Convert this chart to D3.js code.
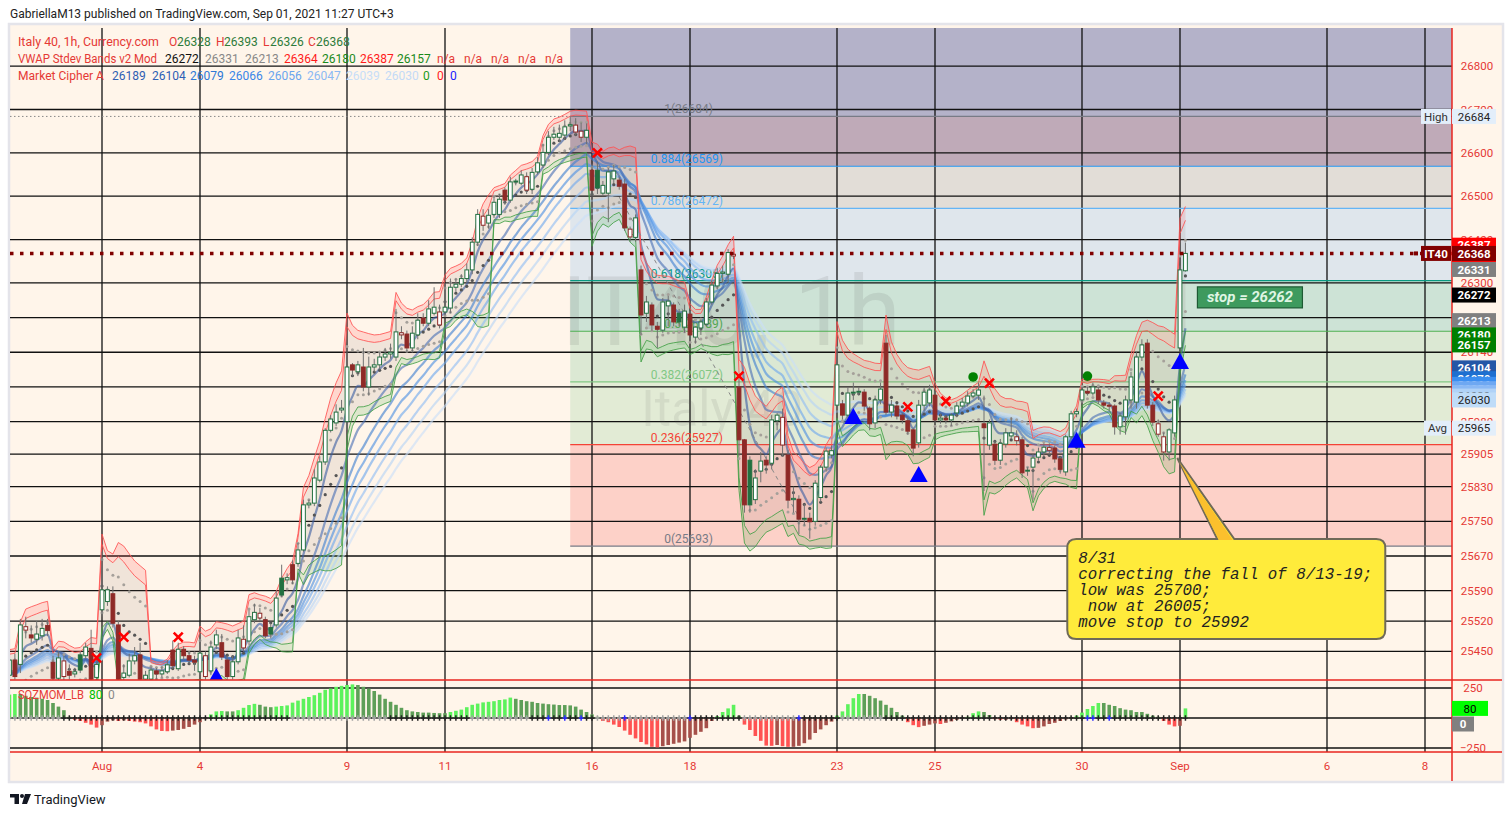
<!DOCTYPE html>
<html><head><meta charset="utf-8">
<script src="https://cdn.jsdelivr.net/npm/d3@7"></script>
<style>body{margin:0;background:#fff}svg{display:block;font-family:Roboto,'Liberation Sans',Arial,sans-serif}</style>
</head><body><svg id="c" width="1512" height="816"></svg>
<script>
// ---------- DATA ----------
// hourly OHLC, Italy 40 (9 bars per trading day, first bar = Jul 29)
const candles = [
[25380,25400,25360,25395],[25395,25440,25385,25430],[25430,25445,25385,25392],[25420,25525,25400,25511],[25499,25530,25480,25507],[25488,25510,25470,25481],[25478,25520,25465,25490],[25486,25525,25475,25503],[25510,25525,25485,25498],
[25425,25440,25370,25388],[25388,25450,25375,25435],[25392,25440,25380,25428],[25404,25420,25385,25395],[25398,25412,25390,25403],[25442,25450,25400,25407],[25440,25470,25432,25460],[25457,25500,25375,25386],[25390,25440,25380,25420],
[25546,25680,25530,25592],[25565,25600,25555,25592],[25583,25600,25505,25515],[25511,25520,25380,25386],[25390,25420,25375,25400],[25395,25445,25390,25428],[25428,25460,25420,25440],[25442,25470,25380,25386],[25386,25405,25375,25395],
[25386,25415,25380,25407],[25405,25412,25385,25398],[25398,25415,25390,25405],[25403,25430,25398,25419],[25453,25475,25410,25417],[25410,25470,25405,25455],[25455,25462,25430,25440],[25440,25450,25420,25430],[25430,25440,25405,25425],
[25403,25480,25395,25446],[25392,25450,25385,25440],[25405,25475,25395,25460],[25465,25500,25455,25488],[25470,25490,25430,25437],[25430,25440,25385,25392],[25392,25440,25385,25426],[25426,25500,25420,25481],[25458,25510,25450,25478],
[25474,25545,25465,25530],[25523,25560,25515,25540],[25527,25550,25520,25538],[25523,25530,25480,25486],[25505,25515,25480,25490],[25511,25590,25505,25573],[25619,25650,25575,25580],[25615,25630,25605,25620],[25650,25660,25605,25615],
[25653,25700,25645,25684],[25684,25800,25680,25788],[25788,25800,25780,25792],[25792,25870,25785,25850],[25845,25900,25840,25887],[25887,25965,25880,25960],[25960,25995,25955,25986],[25977,26020,25970,26002],[26007,26030,26000,26011],
[25980,26150,25960,26106],[26111,26115,26085,26099],[26095,26120,26085,26111],[26106,26150,26050,26060],[26060,26130,26040,26106],[26106,26125,26095,26111],[26111,26140,26100,26129],[26129,26150,26120,26136],[26136,26160,26125,26140],
[26129,26240,26120,26187],[26180,26200,26170,26185],[26182,26190,26140,26150],[26150,26200,26140,26184],[26180,26230,26170,26214],[26219,26230,26200,26207],[26207,26260,26200,26240],[26230,26290,26225,26244],[26203,26250,26195,26233],
[26233,26300,26225,26244],[26242,26310,26230,26290],[26290,26310,26280,26297],[26297,26320,26290,26310],[26310,26345,26300,26330],[26330,26405,26320,26394],[26394,26470,26385,26458],[26433,26470,26420,26454],[26438,26470,26425,26456],
[26458,26500,26450,26486],[26458,26505,26450,26493],[26514,26520,26480,26491],[26491,26545,26485,26533],[26533,26540,26525,26535],[26530,26560,26525,26549],[26514,26555,26505,26545],[26516,26565,26505,26555],[26556,26590,26550,26577],
[26572,26620,26565,26601],[26601,26650,26595,26636],[26636,26660,26630,26643],[26636,26665,26625,26645],[26641,26675,26630,26660],[26662,26684,26650,26665],[26648,26680,26640,26664],[26636,26670,26625,26650],[26636,26668,26620,26652],
[26560,26575,26425,26514],[26560,26580,26505,26519],[26507,26535,26500,26525],[26507,26565,26440,26556],[26540,26572,26530,26558],[26537,26545,26515,26523],[26528,26540,26420,26427],[26406,26430,26395,26424],[26405,26458,26395,26450],
[26330,26340,26180,26226],[26230,26270,26210,26256],[26249,26255,26190,26203],[26200,26210,26150,26193],[26191,26265,26185,26256],[26247,26270,26200,26258],[26249,26255,26200,26210],[26230,26240,26200,26210],[26198,26250,26185,26235],
[26228,26235,26165,26180],[26175,26200,26160,26198],[26196,26215,26180,26210],[26205,26265,26200,26256],[26256,26305,26250,26295],[26293,26335,26285,26322],[26322,26340,26300,26325],[26320,26378,26300,26370],[26362,26370,26355,26366],
[26060,26080,25900,25938],[25938,25940,25770,25788],[25891,25900,25770,25788],[25800,25870,25790,25850],[25866,25910,25840,25889],[25891,25900,25860,25880],[25884,25995,25870,25984],[25982,26000,25960,25995],[25926,26010,25900,25990],
[25903,25915,25780,25799],[25800,25830,25770,25803],[25801,25810,25720,25755],[25755,25790,25740,25757],[25757,25770,25710,25749],[25750,25845,25740,25838],[25805,25880,25795,25875],[25875,25920,25865,25912],[25903,25925,25895,25913],
[26018,26150,26000,26111],[26021,26030,25985,25995],[25995,26060,25990,26046],[26046,26070,26030,26048],[26048,26060,26040,26050],[26048,26055,26005,26016],[26011,26015,25960,25975],[25977,26040,25965,26030],[26030,26070,26020,26055],
[26161,26180,25995,26002],[26002,26030,25990,26018],[26016,26020,25985,25993],[25995,26000,25975,25984],[25982,25990,25950,25958],[25961,25965,25900,25919],[25931,26030,25920,26018],[26018,26060,26005,26048],[26023,26065,26015,26053],
[26041,26050,25975,25984],[25984,25998,25975,25988],[25988,25995,25975,25984],[25984,26000,25970,25995],[26000,26025,25990,26016],[26016,26035,26010,26025],[26023,26050,26015,26039],[26039,26055,26035,26046],[26041,26070,26030,26053],
[25975,26040,25820,25966],[25926,25985,25915,25977],[25928,25935,25880,25891],[25891,25940,25880,25930],[25928,25965,25920,25954],[25947,25990,25940,25954],[25936,25960,25925,25945],[25938,25945,25850,25862],[25866,25875,25855,25868],
[25875,25905,25800,25896],[25898,25920,25890,25910],[25910,25930,25900,25921],[25914,25930,25905,25920],[25919,25925,25885,25894],[25894,25900,25860,25870],[25864,25950,25855,25945],[25945,26005,25940,25998],[25998,26010,25990,26003],
[26030,26060,26020,26053],[26050,26060,26040,26046],[26046,26070,26040,26060],[26053,26060,26020,26030],[26023,26030,26010,26018],[26018,26025,26005,26016],[26016,26020,25950,25968],[25968,26000,25950,25993],[25991,26040,25950,26030],
[26030,26095,26010,26083],[26025,26140,26010,26129],[26129,26170,26120,26157],[26161,26170,26010,26018],[26018,26025,25970,25979],[25951,25985,25945,25975],[25910,25955,25890,25945],[25910,25965,25890,25961],[25954,26040,25945,26030],
[26150,26340,26140,26330],[26328,26393,26326,26368]
];
// SQZMOM_LB histogram, one value per bar
const momentum = [
180,195,200,200,185,175,170,160,150,125,95,65,10,-15,-25,-40,-55,-80,
-60,-30,-20,-25,-20,-25,-30,-35,-45,-70,-95,-108,-110,-105,-100,-90,-75,-55,
-35,-10,30,55,58,55,55,65,85,108,118,110,95,90,95,100,105,128,
145,160,175,190,210,235,245,260,268,275,280,275,260,245,225,195,160,135,
110,85,65,55,50,45,45,42,40,40,50,60,70,90,110,120,130,135,
140,150,155,170,160,150,140,135,125,120,115,112,108,108,105,95,70,50,
30,10,-25,-35,-55,-75,-105,-140,-170,-200,-220,-240,-245,-235,-225,-215,-205,-195,
-165,-140,-115,-85,-25,15,50,80,110,20,-55,-100,-150,-190,-230,-232,-225,-235,
-240,-240,-232,-210,-180,-125,-95,-60,-30,20,55,115,165,200,200,185,165,145,
110,85,50,20,-35,-60,-76,-65,-55,-45,-50,-40,-28,-15,-5,10,40,55,
50,25,-10,-15,-15,-10,-35,-55,-70,-85,-82,-70,-50,-40,-25,-12,-5,20,
45,75,100,125,125,110,100,82,70,65,50,50,35,20,10,-25,-55,-70,
-65,80
];
// squeeze-state crosses on the zero line, as runs of [state, bar count] (g = off, k = on, b = none)
const squeezeRuns = [["g",11],["k",42],["g",18],["k",15],["g",11],["k",3],["b",1],["k",2],["b",1],["k",2],["b",1],["k",2],
 ["g",5],["b",1],["g",11],["b",1],["k",9],["g",10],["b",1],["k",7],["g",8],["k",37],["b",2],["k",2],["b",1],["k",14]];
const squeezeColors = {g:"#a3a3a3", k:"#222222", b:"#2a2aff"};
const barsPerDay = 9;
const timeTickLabels = ["Aug","4","9","11","16","18","23","25","30","Sep","6","8"];
const timeTickDays   = [2,4,7,9,12,14,17,19,22,24,27,29];
const priceTicks = [26800,26700,26600,26500,26400,26300,26220,26140,26060,25980,25905,25830,25750,25670,25590,25520,25450];
const oscTicks = [250,-250];
const emaLengths = [5,11,15,18,21,25,29,33];
const emaColors = ["#3d5fa3","#4a6fb5","#3f7fd0","#4c8fe2","#6ea8ee","#8fbdf3","#b4d3f6","#cadff8"];
const vwapMults = [1,1.56,1.95];
const fibHigh = 26684, fibLow = 25693, fibStartBar = 104;
const fibRatios = [1,0.884,0.786,0.618,0.5,0.382,0.236,0];
const fibLineColors = ["#787b86","#2196f3","#64b5f6","#089981","#4caf50","#81c784","#f44336","#787b86"];
const fibZoneColors = ["#bfaab8","#e2ddd7","#dfe6ec","#cde3d6","#dbe8d3","#e2ebd5","#fdd1c8"];
const fibTopColor = "#b4b2c9";
const crossBars = [17,22,32,109,135,166,173,181,212];
const crossPrices = [25435,25483,25483,26600,26085,26014,26027,26069,26039];
const dotBars = [178,199];
const dotPrices = [26083,26085];
const triBars = [39,156,168,197,216];
const triPrices = [25393,25993,25859,25938,26120];
const trendLine = [[113,26498],[146,25760]];
const lastPrice = 26368, highPrice = 26684, avgPrice = 25965, stopPrice = 26262;
const noteLines = ["8/31","correcting the fall of 8/13-19;","low was 25700;"," now at 26005;","move stop to 25992"];
const noteAnchor = [215.5, 25896];
// [text, colour, x, forced width or 0]
const legend1 = [["Italy 40, 1h, Currency.com","#e53935",18,141],["O","#e53935",169,0],["26328","#2e7b3a",177,0],["H","#e53935",216,0],["26393","#2e7b3a",224,0],["L","#e53935",263,0],["26326","#2e7b3a",270,0],["C","#e53935",308,0],["26368","#2e7b3a",316,0]];
const legend2 = [["VWAP Stdev Bands v2 Mod","#e53935",18,139],["26272","#111",165,0],["26331","#888",205,0],["26213","#888",245,0],["26364","#ff1a1a",284,0],["26180","#1a8a1a",322,0],["26387","#ff1a1a",360,0],["26157","#1a8a1a",397,0],["n/a","#e53935",437,0],["n/a","#e53935",464,0],["n/a","#e53935",491,0],["n/a","#e53935",518,0],["n/a","#e53935",545,0]];
const legend3 = [["Market Cipher A","#e53935",18,86],["26189","#2f5fb3",112,0],["26104","#2d5fb5",152,0],["26079","#2e78d6",190,0],["26066","#3a86e8",229,0],["26056","#6aa5ee",268,0],["26047","#8bb9f3",307,0],["26039","#c7def8",346,0],["26030","#c3daf6",385,0],["0","#1a9a1a",423,0],["0","#ff2020",437,0],["0","#2020ff",450,0]];
const axisBoxes = [
 [26387,"#ff0000","#fff"],[26364,"#ff0000","#fff"],[26368,"#800000","#fff"],[26331,"#808080","#fff"],[26272,"#000000","#fff"],
 [26213,"#808080","#fff"],[26180,"#008000","#fff"],[26157,"#008000","#fff"],
 [26104,"#2456a6","#fff"],[26079,"#1e6fd0","#fff"],[26066,"#3b8ef0","#fff"],[26056,"#6ea8f2","#fff"],[26047,"#8ab9f5","#fff"],[26039,"#b0d2f7","#222"],[26030,"#bfdcf8","#222"]
];

// ---------- SCALES ----------
const svg = d3.select("#c");
const P = {l:10, r:1452, t:28, b:680};
const O = {t:680, b:752};
const x = d3.scaleLinear().domain([0,270]).range([4, 4+270*49/9]);
const y = d3.scaleLinear().domain([25384,26888]).range([680,28]);
const yo = d3.scaleLinear().domain([-250,250]).range([748,688]);
const closes = candles.map(d=>d[3]);
const squeeze = squeezeRuns.flatMap(([s,n])=>Array(n).fill(s));

// ---------- INDICATORS (derived from OHLC) ----------
function ema(arr,len){const k=2/(len+1);let p=arr[0];return arr.map((v,i)=>(p=i?v*k+p*(1-k):v));}
const emas = emaLengths.map(L=>ema(closes,L));
const vw=[];{let s=0,s2=0,n=0,day=-1;candles.forEach((c,i)=>{const d=Math.floor(i/barsPerDay);if(d!==day){day=d;s=0;s2=0;n=0;}[c[1],c[2],c[3]].forEach(v=>{s+=v;s2+=v*v;n++;});const m=s/n;vw.push({i,m,sd:Math.sqrt(Math.max(0,s2/n-m*m))});});}

// ---------- FRAME ----------
svg.append("rect").attr("width",1512).attr("height",816).attr("fill","#fff");
svg.append("text").attr("x",10).attr("y",18).attr("font-size",12).attr("fill","#222").text("GabriellaM13 published on TradingView.com, Sep 01, 2021 11:27 UTC+3");
svg.append("rect").attr("x",9).attr("y",24).attr("width",1494).attr("height",758).attr("fill","#fff5ea").attr("stroke","#e4e4ea").attr("stroke-width",2.5);
const defs = svg.append("defs");
defs.append("clipPath").attr("id","cm").append("rect").attr("x",P.l).attr("y",P.t).attr("width",P.r-P.l).attr("height",P.b-P.t);
defs.append("clipPath").attr("id","co").append("rect").attr("x",P.l).attr("y",O.t).attr("width",P.r-P.l).attr("height",O.b-O.t);

const gm = svg.append("g").attr("clip-path","url(#cm)");
// fib zones
const fibP = fibRatios.map(r=>fibLow+r*(fibHigh-fibLow));
const fx0 = x(fibStartBar);
gm.append("rect").attr("x",fx0).attr("y",P.t).attr("width",P.r-fx0).attr("height",y(fibP[0])-P.t).attr("fill",fibTopColor);
fibZoneColors.forEach((c,k)=>{gm.append("rect").attr("x",fx0).attr("y",y(fibP[k])).attr("width",P.r-fx0).attr("height",y(fibP[k+1])-y(fibP[k])).attr("fill",c);});
// grid
gm.selectAll(".hg").data(priceTicks).join("line").attr("x1",P.l).attr("x2",P.r).attr("y1",d=>y(d)).attr("y2",d=>y(d)).attr("stroke","#111").attr("stroke-width",1.3);
gm.selectAll(".vg").data(timeTickDays).join("line").attr("x1",d=>x(d*barsPerDay)).attr("x2",d=>x(d*barsPerDay)).attr("y1",P.t).attr("y2",P.b).attr("stroke","#111").attr("stroke-width",1.3);
// watermark
gm.append("text").attr("x",731).attr("y",345).attr("text-anchor","middle").attr("font-size",96).attr("fill","rgba(90,90,90,0.13)").text("IT40, 1h");
gm.append("text").attr("x",722).attr("y",426).attr("text-anchor","middle").attr("font-size",50).attr("fill","rgba(90,90,90,0.11)").text("Italy 40");
// fib lines + labels
fibP.forEach((p,k)=>{
  gm.append("line").attr("x1",fx0).attr("x2",P.r).attr("y1",y(p)).attr("y2",y(p)).attr("stroke",fibLineColors[k]).attr("stroke-width",1.2);
  const gray = fibLineColors[k]==="#787b86";
  gm.append("text").attr("x",gray?713:723).attr("y",y(p)-3).attr("text-anchor","end").attr("font-size",12).attr("fill",fibLineColors[k]).text(`${fibRatios[k]}(${Math.round(p)})`);
});
// high dotted line
gm.append("line").attr("x1",P.l).attr("x2",fx0).attr("y1",y(highPrice)).attr("y2",y(highPrice)).attr("stroke","#888").attr("stroke-dasharray","1.5,2.5");

// VWAP band fills
const band = (k,s)=>d=>y(d.m+s*vwapMults[k]*d.sd);
const areaF=(a,b)=>d3.area().x(d=>x(d.i)).y0(a).y1(b);
gm.append("path").datum(vw).attr("d",areaF(band(1,1),band(1,-1))).attr("fill","rgba(130,110,95,0.12)");
gm.append("path").datum(vw).attr("d",areaF(band(1,1),band(2,1))).attr("fill","rgba(255,70,70,0.17)");
gm.append("path").datum(vw).attr("d",areaF(band(1,-1),band(2,-1))).attr("fill","rgba(60,160,60,0.17)");
// EMA ribbon
emas.slice().reverse().forEach((e,k)=>{const idx=emas.length-1-k;gm.append("path").datum(e).attr("d",d3.line().x((d,i)=>x(i)).y(d=>y(d)).curve(d3.curveMonotoneX)).attr("fill","none").attr("stroke",emaColors[idx]).attr("stroke-width",2.2).attr("opacity",0.62);});
// band lines
[[2,1,"#ff5252"],[1,1,"#ff5252"],[1,-1,"#43a047"],[2,-1,"#43a047"]].forEach(([k,s,c])=>{gm.append("path").datum(vw).attr("d",d3.line().x(d=>x(d.i)).y(band(k,s))).attr("fill","none").attr("stroke",c).attr("stroke-width",1).attr("opacity",0.85);});
gm.selectAll(".d1").data(vw.flatMap(d=>[{i:d.i,v:d.m+d.sd},{i:d.i,v:d.m-d.sd}])).join("circle").attr("cx",d=>x(d.i)).attr("cy",d=>y(d.v)).attr("r",1.5).attr("fill","#a5a09a");
gm.selectAll(".d0").data(vw).join("circle").attr("cx",d=>x(d.i)).attr("cy",d=>y(d.m)).attr("r",1.6).attr("fill","#555");
// dashed trend line
gm.append("line").attr("x1",x(trendLine[0][0])).attr("y1",y(trendLine[0][1])).attr("x2",x(trendLine[1][0])).attr("y2",y(trendLine[1][1])).attr("stroke","#888").attr("stroke-dasharray","4,4").attr("stroke-width",1);

// candles
const G="#237040", R="#8e2a27";
const cg = gm.selectAll(".cd").data(candles.map((c,i)=>({i,o:c[0],h:c[1],l:c[2],c:c[3],p:i?candles[i-1][3]:c[0]}))).join("g");
cg.append("line").attr("x1",d=>x(d.i)).attr("x2",d=>x(d.i)).attr("y1",d=>y(d.h)).attr("y2",d=>y(d.l)).attr("stroke","#707070").attr("stroke-width",1);
cg.append("rect").attr("x",d=>x(d.i)-1.9).attr("width",3.8)
  .attr("y",d=>y(Math.max(d.o,d.c))).attr("height",d=>Math.max(1,Math.abs(y(d.o)-y(d.c))))
  .attr("fill",d=>d.c>=d.o?"#ffffff":(d.c>=d.p?G:R)).attr("stroke",d=>d.c>=d.p?G:R).attr("stroke-width",1);

// markers
crossBars.forEach((b,k)=>{const cx=x(b),cy=y(crossPrices[k]);gm.append("path").attr("d",`M${cx-4.5},${cy-4.5}L${cx+4.5},${cy+4.5}M${cx+4.5},${cy-4.5}L${cx-4.5},${cy+4.5}`).attr("stroke","#ff0000").attr("stroke-width",2.6);});
dotBars.forEach((b,k)=>gm.append("circle").attr("cx",x(b)).attr("cy",y(dotPrices[k])).attr("r",4.8).attr("fill","#008000"));
triBars.forEach((b,k)=>{const cx=x(b),cy=y(triPrices[k]);gm.append("path").attr("d",`M${cx},${cy-8}L${cx+9},${cy+8}L${cx-9},${cy+8}Z`).attr("fill","#0000ff");});

// last price dotted line
gm.append("line").attr("x1",P.l).attr("x2",P.r).attr("y1",y(lastPrice)).attr("y2",y(lastPrice)).attr("stroke","#800000").attr("stroke-width",3.5).attr("stroke-dasharray","3.5,6.5");

// stop label
const sx0 = x(219.2), sy = y(stopPrice)-2;
gm.append("rect").attr("x",sx0).attr("y",sy-10.5).attr("width",105).attr("height",21).attr("fill","#3e9a5e").attr("stroke","#1d5a33").attr("stroke-width",1.2);
gm.append("text").attr("x",sx0+52.5).attr("y",sy+5).attr("text-anchor","middle").attr("font-size",15).attr("font-weight","bold").attr("font-style","italic").attr("fill","#dff5e3").text("stop = 26262");

// note callout
{const tx=x(noteAnchor[0]),ty=y(noteAnchor[1]);const x0=tx-110,y0=ty+81,x1=tx+208,y1=ty+181,r=9,b1=tx+40,b2=tx+57;
 gm.append("path").attr("d",`M${x0+r},${y0}L${b1},${y0}L${tx},${ty}L${b2},${y0}L${x1-r},${y0}Q${x1},${y0} ${x1},${y0+r}L${x1},${y1-r}Q${x1},${y1} ${x1-r},${y1}L${x0+r},${y1}Q${x0},${y1} ${x0},${y1-r}L${x0},${y0+r}Q${x0},${y0} ${x0+r},${y0}Z`).attr("fill","#ffeb3b").attr("stroke","#6f6a58").attr("stroke-width",2);
 gm.append("path").attr("d",`M${tx+2},${ty+4}L${b2-1.5},${y0+1}L${b1+1.5},${y0+1}Z`).attr("fill","#fbc02d");
 noteLines.forEach((t,k)=>gm.append("text").attr("x",x0+11).attr("y",y0+24+k*16).attr("font-family","'Liberation Mono','DejaVu Sans Mono',monospace").attr("font-style","italic").attr("font-size",15.8).attr("fill","#222").attr("xml:space","preserve").text(t));
}

// legends
[[legend1,46],[legend2,63],[legend3,80]].forEach(([L,yy])=>L.forEach(([t,c,xx,w])=>{const e=gm.append("text").attr("x",xx).attr("y",yy).attr("font-size",12).attr("fill",c).text(t);if(w)e.attr("textLength",w).attr("lengthAdjust","spacingAndGlyphs");}));

// ---------- OSCILLATOR ----------
const go = svg.append("g").attr("clip-path","url(#co)");
go.selectAll(".og").data([250,-250]).join("line").attr("x1",P.l).attr("x2",P.r).attr("y1",d=>yo(d)).attr("y2",d=>yo(d)).attr("stroke","#111").attr("stroke-width",1.3);
go.selectAll(".ov").data(timeTickDays).join("line").attr("x1",d=>x(d*barsPerDay)).attr("x2",d=>x(d*barsPerDay)).attr("y1",O.t).attr("y2",O.b).attr("stroke","#111").attr("stroke-width",1.3);
go.append("line").attr("x1",P.l).attr("x2",P.r).attr("y1",yo(0)).attr("y2",yo(0)).attr("stroke","#111").attr("stroke-width",1.3);
go.selectAll(".hb").data(momentum).join("rect").attr("x",(d,i)=>x(i)-1.8).attr("width",3.6)
  .attr("y",d=>Math.min(yo(0),yo(d))).attr("height",d=>Math.abs(yo(d)-yo(0)))
  .attr("fill",(d,i)=>{const p=i?momentum[i-1]:0;return d>0?(d>p?"#5cf25c":"#5e9f58"):(d<p?"#ff5252":"#a6504a");});
go.selectAll(".sq").data(squeeze).join("path").attr("d",(d,i)=>{const cx=x(i),cy=yo(0);return `M${cx-2.2},${cy}L${cx+2.2},${cy}M${cx},${cy-2.8}L${cx},${cy+2.8}`;}).attr("stroke",d=>squeezeColors[d]).attr("stroke-width",1.5);
go.append("text").attr("x",18).attr("y",699).attr("font-size",12).attr("fill","#e53935").attr("textLength",66).attr("lengthAdjust","spacingAndGlyphs").text("SQZMOM_LB");
go.append("text").attr("x",89).attr("y",699).attr("font-size",12).attr("fill","#00c000").text("80");
go.append("text").attr("x",108).attr("y",699).attr("font-size",12).attr("fill","#888").text("0");

// ---------- AXES ----------
const ga = svg.append("g");
ga.append("line").attr("x1",P.l).attr("x2",1502).attr("y1",P.b).attr("y2",P.b).attr("stroke","#e8241f").attr("stroke-width",1.5);
ga.append("line").attr("x1",P.l).attr("x2",1502).attr("y1",O.b).attr("y2",O.b).attr("stroke","#e8241f").attr("stroke-width",1.5);
ga.append("line").attr("x1",P.r).attr("x2",P.r).attr("y1",P.t).attr("y2",781).attr("stroke","#e8241f").attr("stroke-width",1.5);
// tick labels that sit fully under a value box are hidden, as in the reference
const boxYs = axisBoxes.map(b=>y(b[0])).concat([y(highPrice),y(avgPrice)]);
const shownTicks = priceTicks.filter(t=>!boxYs.some(b=>Math.abs(b-y(t))<4));
ga.selectAll(".pt").data(shownTicks).join("text").attr("x",1477).attr("y",d=>y(d)+4).attr("text-anchor","middle").attr("font-size",11.5).attr("fill","#e53935").text(d=>d);
ga.selectAll(".ot").data(oscTicks).join("text").attr("x",1473).attr("y",d=>yo(d)+4).attr("text-anchor","middle").attr("font-size",11.5).attr("fill","#e53935").text(d=>d<0?"\u2212"+(-d):d);
ga.selectAll(".tt").data(timeTickDays).join("text").attr("x",d=>x(d*barsPerDay)).attr("y",770).attr("text-anchor","middle").attr("font-size",11.5).attr("fill","#e53935").text((d,k)=>timeTickLabels[k]);
function box(yc,text,fill,color,x0=1452,w=44,bold=false){ga.append("rect").attr("x",x0).attr("y",yc-7.5).attr("width",w).attr("height",15).attr("fill",fill);ga.append("text").attr("x",x0+w/2).attr("y",yc+4.2).attr("text-anchor","middle").attr("font-size",11.5).attr("font-weight",bold?"bold":"normal").attr("fill",color).text(text);}
box(y(highPrice),"High","#e3eefa","#333",1421,30); box(y(highPrice),highPrice,"#e3eefa","#222");
axisBoxes.forEach(([v,f,c])=>box(y(v),v,f,c,1452,44,v!==26030&&v!==26039));
box(y(lastPrice),"IT40","#800000","#fff",1421,30,true);
ga.append("rect").attr("x",1414).attr("y",y(lastPrice)-2).attr("width",4).attr("height",4).attr("fill","#800000");
box(y(avgPrice),"Avg","#e3eefa","#333",1424,27); box(y(avgPrice),avgPrice,"#e3eefa","#222");
box(yo(80),"80","#00ff00","#000",1452,36); box(yo(0)+6,"0","#808080","#fff",1452,22,true);

// footer
const gf = svg.append("g").attr("fill","#131722");
gf.append("rect").attr("x",10).attr("y",794).attr("width",9).attr("height",3.5);
gf.append("rect").attr("x",14.5).attr("y",794).attr("width",4.5).attr("height",10);
gf.append("circle").attr("cx",22).attr("cy",796).attr("r",2);
gf.append("path").attr("d","M25,794L31,794L27,804L22,804Z");
gf.append("text").attr("x",34).attr("y",803.5).attr("font-size",13).text("TradingView");
</script></body></html>
